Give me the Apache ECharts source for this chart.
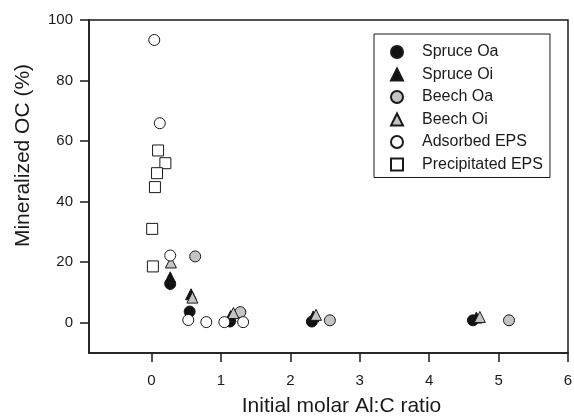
<!DOCTYPE html>
<html>
<head>
<meta charset="utf-8">
<script src="https://cdn.jsdelivr.net/npm/echarts@6/dist/echarts.min.js"></script>
<style>
  html, body { margin: 0; padding: 0; background: #fff; }
  #chart { width: 574px; height: 417px; }
</style>
</head>
<body>
<div id="chart"></div>
<script>
// Mineralized organic carbon vs. initial molar Al:C ratio
const seriesNames = ['Spruce Oa', 'Spruce Oi', 'Beech Oa', 'Beech Oi', 'Adsorbed EPS', 'Precipitated EPS'];

// [Al:C ratio, mineralized OC %]
const spruceOa = [[0.27, 12.8], [0.55, 3.7], [1.13, 0.4], [2.31, 0.4], [4.63, 0.8]];
const spruceOi = [[0.27, 15.0], [0.57, 9.4], [1.14, 2.2], [2.33, 2.1], [4.68, 1.7]];
const beechOa = [[0.63, 21.9], [1.28, 3.5], [2.57, 0.8], [5.15, 0.8]];
const beechOi = [[0.28, 19.9], [0.59, 8.3], [1.18, 3.2], [2.37, 2.6], [4.73, 1.9]];
const adsorbedEPS = [[0.04, 93.4], [0.12, 65.9], [0.27, 22.2], [0.53, 0.9], [0.79, 0.2], [1.05, 0.2], [1.32, 0.2]];
const precipitatedEPS = [[0.095, 56.9], [0.2, 52.7], [0.08, 49.4], [0.05, 44.8], [0.01, 31.0], [0.02, 18.6]];

const xTicks = [0, 1, 2, 3, 4, 5, 6];
const yTicks = [0, 20, 40, 60, 80, 100];

const ink = '#1a1a1a';
const font = 'Liberation Sans, Arial, sans-serif';

function scatter(name, data, symbol, fill) {
  return {
    name: name,
    type: 'scatter',
    data: data,
    symbol: symbol,
    symbolSize: 11,
    itemStyle: { color: fill, borderColor: ink, borderWidth: 1, opacity: 1 },
    emphasis: { disabled: true }
  };
}

const chart = echarts.init(document.getElementById('chart'), null, { renderer: 'canvas' });
chart.setOption({
  animation: false,
  backgroundColor: '#fff',
  grid: {
    left: 89, right: 6, top: 20, bottom: 64,
    outerBoundsMode: 'none',
    containLabel: false,
    show: true, borderColor: ink, borderWidth: 1.5, backgroundColor: 'transparent'
  },
  xAxis: {
    type: 'value',
    min: -0.9, max: 6,
    name: 'Initial molar Al:C ratio',
    nameLocation: 'middle',
    nameGap: 43,
    nameTextStyle: { fontFamily: font, fontSize: 21, color: ink, padding: [0, 0, 0, 26] },
    axisLine: { show: true, onZero: false, lineStyle: { color: ink, width: 1.5 } },
    axisTick: { show: true, inside: false, length: 9, customValues: xTicks, lineStyle: { color: ink, width: 1.5 } },
    axisLabel: { customValues: xTicks, margin: 20, fontFamily: font, fontSize: 15, color: ink },
    splitLine: { show: false }
  },
  yAxis: {
    type: 'value',
    min: -10, max: 100,
    name: 'Mineralized OC (%)',
    nameLocation: 'middle',
    nameGap: 55,
    nameRotate: 90,
    nameTextStyle: { fontFamily: font, fontSize: 21, color: ink, padding: [0, 0, 0, 62] },
    axisLine: { show: true, onZero: false, lineStyle: { color: ink, width: 1.5 } },
    axisTick: { show: true, inside: false, length: 9, customValues: yTicks, lineStyle: { color: ink, width: 1.5 } },
    axisLabel: { customValues: yTicks, margin: 16, fontFamily: font, fontSize: 15, color: ink },
    splitLine: { show: false }
  },
  legend: {
    data: seriesNames,
    orient: 'vertical',
    left: 374, top: 34,
    padding: [10, 7, 5, 16],
    itemWidth: 12, itemHeight: 12,
    itemGap: 6.5,
    borderColor: ink, borderWidth: 1,
    textStyle: { fontFamily: font, fontSize: 16, lineHeight: 16, color: ink, padding: [0, 0, 0, 14] },
    selectedMode: false
  },
  series: [
    scatter(seriesNames[0], spruceOa, 'circle', '#111111'),
    scatter(seriesNames[1], spruceOi, 'triangle', '#111111'),
    scatter(seriesNames[2], beechOa, 'circle', '#c4c4c4'),
    scatter(seriesNames[3], beechOi, 'triangle', '#c4c4c4'),
    scatter(seriesNames[4], adsorbedEPS, 'circle', '#ffffff'),
    scatter(seriesNames[5], precipitatedEPS, 'rect', '#ffffff')
  ]
});
</script>
</body>
</html>
